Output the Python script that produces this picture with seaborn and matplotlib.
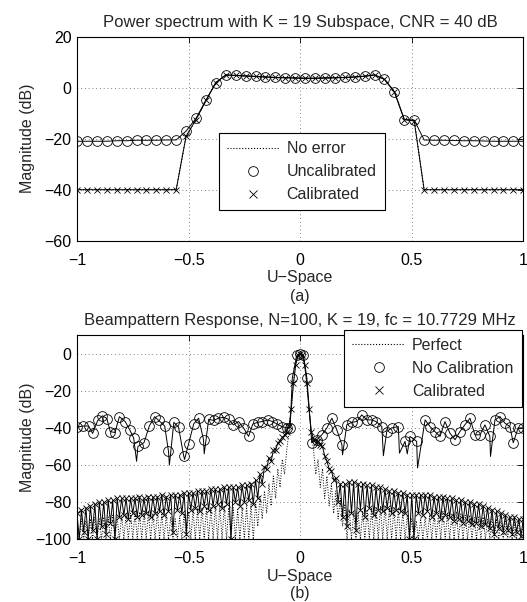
import numpy as np
import pandas as pd
import matplotlib
matplotlib.use("Agg")
import matplotlib.pyplot as plt
import seaborn as sns
from matplotlib.lines import Line2D

# ---------------- (a) power spectrum data ----------------
spec_u = np.linspace(-1, 1, 46)
spec_noerror = [-40, -40, -40, -40, -40, -40, -40, -40, -40, -40, -40,
                -19, -12.5, -5, 2, 5,
                4.8, 4.6, 4.4, 4.2, 4.0, 3.9, 3.8, 3.7, 3.7, 3.8, 3.9, 4.0, 4.2, 4.5,
                5.0, 3.3, -1.6, -12.5, -13,
                -40, -40, -40, -40, -40, -40, -40, -40, -40, -40, -40]
spec_uncal = [-21, -21, -21, -21, -20.8, -20.8, -20.6, -20.6, -20.6, -20.5, -20.5,
              -17, -12, -5, 2, 5,
              4.8, 4.6, 4.4, 4.2, 4.0, 3.9, 3.8, 3.7, 3.7, 3.8, 3.9, 4.0, 4.2, 4.5,
              5.0, 3.3, -1.6, -12.5, -12.7,
              -20.5, -20.6, -20.6, -20.7, -20.8, -20.8, -20.9, -21, -21, -21, -21]
spec_cal = [-40, -40, -40, -40, -40, -40, -40, -40, -40, -40, -40,
            -19, -12.5, -5, 2, 5,
            4.8, 4.6, 4.4, 4.2, 4.0, 3.9, 3.8, 3.7, 3.7, 3.8, 3.9, 4.0, 4.2, 4.5,
            5.0, 3.3, -1.6, -12.5, -13,
            -40, -40, -40, -40, -40, -40, -40, -40, -40, -40, -40]

# ---------------- (b) beampattern data ----------------
beam_u = np.round(np.linspace(-1, 1, 201), 2)
# sidelobe peaks at u = -1.00, -0.98, ..., 1.00 and nulls at u = -0.99, ..., 0.99
perfect_peak = [-90, -89, -90, -89, -88, -89, -88, -88, -87, -88,
                -87, -86, -86, -85, -86, -85, -85, -86, -85, -86,
                -87, -88, -89, -88, -86, -85, -84, -84, -83, -83,
                -83, -82, -82, -82, -83, -83, -84, -83, -82, -81,
                -80, -77, -74, -70, -66, -62, -57, -52,
                -30, -6, 0, -6, -30,
                -52, -57, -62, -66, -70, -74, -78, -81,
                -84, -85, -86, -85, -84, -83, -83, -82, -82, -83,
                -83, -84, -85, -87, -89, -90, -89, -88, -87, -86,
                -86, -85, -86, -86, -85, -86, -87, -87, -88, -88,
                -88, -89, -88, -89, -90, -89, -90, -91, -90, -92]
perfect_null = [-100, -100, -100, -100, -100, -100, -100, -100, -100, -100,
                -100, -100, -100, -100, -100, -100, -100, -100, -100, -100,
                -100, -100, -100, -100, -100, -100, -100, -100, -100, -100,
                -100, -100, -100, -100, -100, -100, -100, -100, -100, -100,
                -93, -89, -86, -82, -78, -72, -65,
                -42, -16, -1, -1, -16, -42,
                -65, -72, -78, -82, -86, -89, -93,
                -100, -100, -100, -100, -100, -100, -100, -100, -100, -100,
                -100, -100, -100, -100, -100, -100, -100, -100, -100, -100,
                -100, -100, -100, -100, -100, -100, -100, -100, -100, -100,
                -100, -100, -100, -100, -100, -100, -100, -100, -100, -100]
cal_peak = [-86, -84, -83, -82, -81, -80, -80, -79, -79, -78,
            -78, -78, -78, -78, -77, -78, -77, -77, -77, -76,
            -77, -76, -76, -76, -75, -75, -75, -74, -74, -74,
            -73, -73, -73, -72, -72, -72, -72, -71, -71, -70,
            -68, -65, -61, -56, -52, -48, -45, -42, -30, -6,
            0, -6, -30, -46, -47, -50, -58, -63, -67, -70,
            -70, -69, -69, -70, -70, -71, -71, -72, -72, -73,
            -74, -74, -75, -75, -76, -76, -76, -76, -76, -76,
            -77, -77, -77, -78, -78, -79, -79, -80, -80, -81,
            -81, -82, -83, -84, -85, -86, -87, -88, -88, -89,
            -89]
cal_null = [-100, -96, -100, -95, -100, -93, -97, -91, -100, -88,
            -87, -89, -86, -88, -87, -86, -88, -86, -85, -87,
            -85, -96, -84, -86, -97, -84, -83, -85, -82, -84,
            -82, -81, -83, -81, -100, -80, -82, -80, -79, -81,
            -78, -70, -62, -58, -52, -47, -44, -39, -16, -1,
            -1, -16, -42, -48, -49, -55, -62, -68, -80, -88,
            -93, -86, -95, -84, -88, -83, -87, -84, -85, -83,
            -86, -84, -85, -86, -100, -100, -86, -87, -85, -88,
            -86, -89, -87, -88, -90, -89, -91, -90, -92, -91,
            -93, -92, -94, -97, -94, -96, -95, -97, -96, -98]
nocal_u = [-1.0, -0.973, -0.948, -0.93, -0.907, -0.886, -0.866, -0.851, -0.83, -0.81,
           -0.784, -0.764, -0.746, -0.727, -0.70, -0.676, -0.652, -0.634, -0.607, -0.59,
           -0.566, -0.545, -0.522, -0.50, -0.477, -0.455, -0.433, -0.41, -0.388, -0.366,
           -0.343, -0.321, -0.299, -0.276, -0.254, -0.231, -0.212, -0.19, -0.169, -0.145,
           -0.124, -0.104, -0.082, -0.06, -0.045, -0.035, -0.015, 0.0, 0.015, 0.03,
           0.052, 0.075, 0.097, 0.12, 0.142, 0.164, 0.187, 0.209, 0.231, 0.254,
           0.276, 0.299, 0.321, 0.34, 0.366, 0.388, 0.41, 0.44, 0.47, 0.492,
           0.522, 0.56, 0.582, 0.604, 0.627, 0.649, 0.671, 0.694, 0.716, 0.738,
           0.761, 0.783, 0.806, 0.828, 0.85, 0.873, 0.895, 0.918, 0.94, 0.955,
           0.977, 1.0]
nocal_db = [-39.6, -39, -39, -43, -36, -33.5, -35, -42, -42.5, -34,
            -36.6, -41, -45.5, -50, -48, -39, -34, -36, -39, -52.7,
            -37, -39.6, -55, -48.6, -37.9, -34.8, -46.4, -35.4, -36, -34.8,
            -34.3, -35.4, -38.4, -36.6, -40, -44.6, -37.9, -37, -36.6, -35.7,
            -36.6, -37.9, -39.3, -40, -40, -13, -1, 0, -1, -13,
            -48, -46.4, -43.75, -40, -34.8, -41, -49, -38.4, -37, -36.6,
            -33, -35.7, -35.7, -36.6, -39.3, -42, -40, -39.3, -47.3, -44.6,
            -47.3, -35.7, -39.3, -42, -44.6, -36.6, -42.8, -46.4, -42, -38.4,
            -34.8, -43.75, -43.75, -38.4, -44.6, -35.7, -33.9, -37.5, -39.3, -48,
            -40, -40]
nocal_dip_u = [-0.733, -0.586, -0.518, -0.430, 0.190, 0.373, 0.445, 0.480, 0.526, 0.853]
nocal_dip_db = [-58, -60, -57, -54, -54.5, -55, -53.6, -54, -61.6, -55.4]

# ---------------- style ----------------
sns.set_style("white")
plt.rcParams["font.family"] = ["Liberation Sans", "DejaVu Sans"]
plt.rcParams["axes.unicode_minus"] = True
FS = 11.5
FT = 12

W, H = 527, 602
fig = plt.figure(figsize=(W / 100, H / 100), dpi=100)

def frac_axes(x0, y0, x1, y1):
    return fig.add_axes([x0 / W, 1 - y1 / H, (x1 - x0) / W, (y1 - y0) / H])

ax1 = frac_axes(77, 36.7, 523.3, 240.7)
ax2 = frac_axes(77, 335, 523.3, 539.3)

def style_axes(ax):
    for s in ax.spines.values():
        s.set_color("k")
        s.set_linewidth(0.8)
        s.set_visible(True)
    ax.tick_params(direction="in", length=4, width=0.6, colors="k",
                   top=True, right=True, labelsize=FS)
    ax.tick_params(axis="x", pad=8.5)
    ax.tick_params(axis="y", pad=4)
    ax.grid(True, color="0.35", linestyle=(0, (1, 3.5)), linewidth=0.6)
    ax.set_axisbelow(True)
    ax.set_xlim(-1, 1)
    ax.set_xticks([-1, -0.5, 0, 0.5, 1])
    ax.set_xticklabels(["\u22121", "\u22120.5", "0", "0.5", "1"])
    ax.set_xlabel("U\u2212Space", fontsize=FS, labelpad=2)
    ax.set_ylabel("Magnitude (dB)", fontsize=FS)
    ax.yaxis.set_label_coords(-0.094, 0.5)

# ---------------- (a) ----------------
df_a = pd.DataFrame({"u": spec_u, "noerr": spec_noerror, "uncal": spec_uncal, "cal": spec_cal})
sns.lineplot(data=df_a, x="u", y="noerr", ax=ax1, color="k", lw=0.8, linestyle=":",
             estimator=None, sort=False, legend=False)
sns.lineplot(data=df_a, x="u", y="uncal", ax=ax1, color="k", lw=0.7, marker="o",
             markersize=7, mfc="none", mec="k", mew=0.6,
             estimator=None, sort=False, legend=False)
sns.lineplot(data=df_a, x="u", y="cal", ax=ax1, color="k", lw=0.7, marker="x",
             markersize=5, mec="k", mew=0.6,
             estimator=None, sort=False, legend=False)
style_axes(ax1)
ax1.set_ylim(-60, 20)
ax1.set_yticks([-60, -40, -20, 0, 20])
ax1.set_yticklabels(["\u221260", "\u221240", "\u221220", "0", "20"])
ax1.set_title("Power spectrum with K = 19 Subspace, CNR = 40 dB", fontsize=FT, pad=7)

def make_handles():
    return [Line2D([], [], ls=":", color="k", lw=0.8),
            Line2D([], [], ls="none", marker="o", mfc="none", mec="k", ms=7, mew=0.6),
            Line2D([], [], ls="none", marker="x", color="k", ms=6, mew=0.6)]

leg_kw = dict(fontsize=FS, frameon=True, fancybox=False, edgecolor="k", framealpha=1,
              handlelength=3.3, handletextpad=0.45, labelspacing=0.5, borderpad=0.5,
              borderaxespad=0)
leg = ax1.legend(make_handles(), ["No error", "Uncalibrated", "Calibrated"], loc="center",
                 bbox_to_anchor=(0.5035, 0.3375), **leg_kw)
leg.get_frame().set_linewidth(0.8)

# ---------------- (b) ----------------
perfect_db = np.empty(201)
perfect_db[0::2] = perfect_peak
perfect_db[1::2] = perfect_null
cal_db = np.empty(201)
cal_db[0::2] = cal_peak
cal_db[1::2] = cal_null
df_b = pd.DataFrame({"u": beam_u, "perfect": perfect_db, "cal": cal_db})

nc = pd.DataFrame({"u": nocal_u + nocal_dip_u, "db": nocal_db + nocal_dip_db,
                   "circle": [True] * len(nocal_u) + [False] * len(nocal_dip_u)})
nc = nc.sort_values("u").reset_index(drop=True)
circle_idx = list(nc.index[nc["circle"]])

sns.lineplot(data=df_b, x="u", y="perfect", ax=ax2, color="k", lw=0.7, linestyle=":",
             estimator=None, sort=False, legend=False)
sns.lineplot(data=nc, x="u", y="db", ax=ax2, color="k", lw=0.7, marker="o",
             markevery=circle_idx, markersize=7, mfc="none", mec="k", mew=0.6,
             estimator=None, sort=False, legend=False)
sns.lineplot(data=df_b, x="u", y="cal", ax=ax2, color="k", lw=0.7, marker="x",
             markersize=4.5, mec="k", mew=0.6,
             estimator=None, sort=False, legend=False)
style_axes(ax2)
ax2.set_ylim(-100, 10)
ax2.set_yticks([-100, -80, -60, -40, -20, 0])
ax2.set_yticklabels(["\u2212100", "\u221280", "\u221260", "\u221240", "\u221220", "0"])
ax2.set_title("Beampattern Response, N=100, K = 19, fc = 10.7729 MHz", fontsize=FT, pad=7)

leg2 = ax2.legend(make_handles(), ["Perfect", "No Calibration", "Calibrated"],
                  loc="upper right", bbox_to_anchor=(0.996, 1.0245), **leg_kw)
leg2.get_frame().set_linewidth(0.8)

fig.text(300 / W, 1 - 296.7 / H, "(a)", ha="center", va="center", fontsize=FS)
fig.text(300 / W, 1 - 593.3 / H, "(b)", ha="center", va="center", fontsize=FS)

fig.savefig("out.png", dpi=100)
